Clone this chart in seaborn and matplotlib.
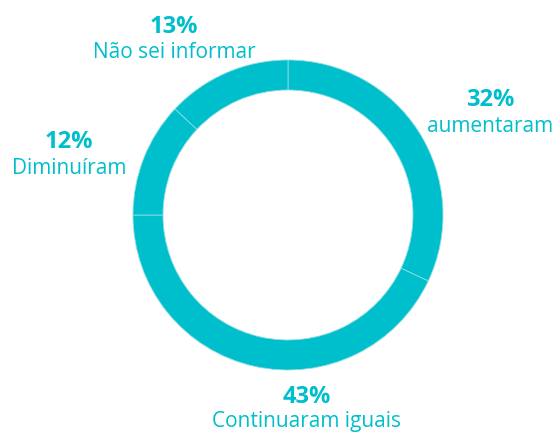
import matplotlib
matplotlib.use("Agg")
import matplotlib.pyplot as plt
import seaborn as sns

# dados
categorias = ["aumentaram", "Continuaram iguais", "Diminuíram", "Não sei informar"]
valores = [32, 43, 12, 13]
rotulos_pct = ["32%", "43%", "12%", "13%"]

sns.set_theme(style="white")
plt.rcParams["font.family"] = ["Open Sans", "DejaVu Sans"]

cor = "#00BFCC"
W, H = 557, 432
cx, cy, R = 288, 215, 155  # centro e raio em pixels

fig = plt.figure(figsize=(W / 100, H / 100), dpi=100)
ax = fig.add_axes([0, 0, 1, 1])

ax.pie(valores, colors=[cor] * len(valores), startangle=90, counterclock=False,
       radius=1, wedgeprops=dict(width=30 / R, edgecolor="#8FDDE4", linewidth=0.6))

ax.set_xlim(-cx / R, (W - cx) / R)
ax.set_ylim(-(H - cy) / R, cy / R)
ax.set_aspect("equal")
ax.axis("off")

# posições dos rótulos (x, y do %, y do nome) em pixels da imagem
pos_rotulos = [(490, 100, 127), (307, 397, 422), (69, 142, 168), (174, 27, 52)]


def px(x, y):
    return (x - cx) / R, (cy - y) / R


for cat, pct, (x, y1, y2) in zip(categorias, rotulos_pct, pos_rotulos):
    ax.text(*px(x, y1), pct, color=cor, fontsize=17, fontweight="bold",
            ha="center", va="center")
    ax.text(*px(x, y2), cat, color=cor, fontsize=15, ha="center", va="center")

fig.savefig("out.png", dpi=100)
